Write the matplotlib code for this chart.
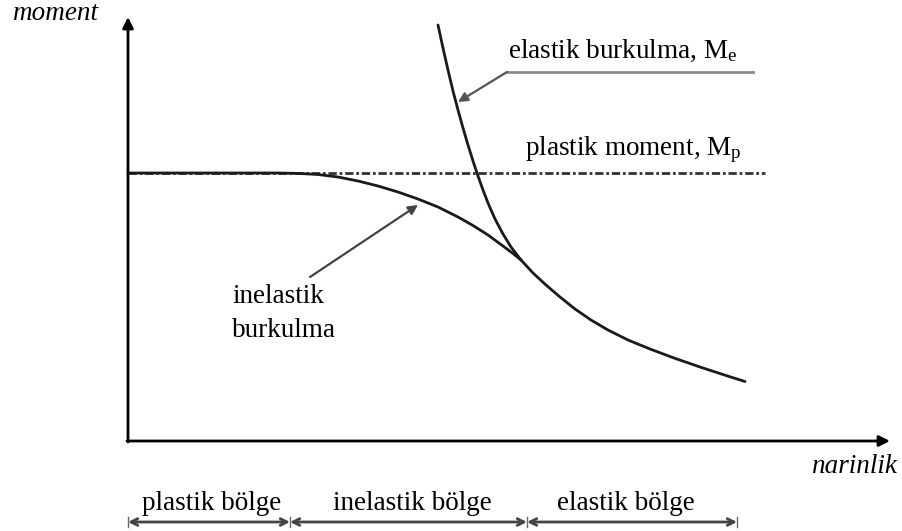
import matplotlib
matplotlib.use("Agg")
import matplotlib.pyplot as plt

plt.rcParams['font.family'] = ['Liberation Serif', 'DejaVu Serif']
plt.rcParams['mathtext.fontset'] = 'custom'
plt.rcParams['mathtext.rm'] = 'Liberation Serif'
plt.rcParams['mathtext.it'] = 'Liberation Serif:italic'
plt.rcParams['lines.scale_dashes'] = False

# ---- data (schematic units) ----
plastic_moment = 268
plastic_line_end = 637

elastic_slenderness = [310, 315, 320, 325, 330, 335, 340, 345, 350, 355, 360, 367, 375, 383,
                       393, 405, 418, 432, 447, 463, 480, 500, 522, 546, 572, 598, 617]
elastic_moment = [416, 393, 371, 350, 331, 313, 296, 280, 265, 251, 238, 222, 207, 194,
                  181, 168, 156, 144, 132, 121, 111, 101, 92, 83, 74, 65.5, 59.5]

inelastic_slenderness = [0, 150, 170, 190, 210, 230, 250, 270, 290, 310, 330, 345, 360, 375, 385, 393]
inelastic_moment = [268, 268, 267.6, 266.5, 264, 260, 255, 249, 242, 234, 224, 215.5, 206, 195, 187.5, 181]

region_bounds = [0, 162, 399, 609]
region_labels = ["plastik bölge", "inelastik bölge", "elastik bölge"]
region_label_x = [14, 205, 429]

FS = 19.5

fig = plt.figure(figsize=(9.02, 5.31), dpi=100)
ax = fig.add_axes([0, 0, 1, 1])
ax.set_xlim(-128, 774)
ax.set_ylim(-90, 441)
ax.axis('off')

# axes arrows
ax.annotate('', xy=(0, 424), xytext=(0, -1),
            arrowprops=dict(arrowstyle='-|>', color='black', lw=2.0,
                            mutation_scale=16, shrinkA=0, shrinkB=0))
ax.annotate('', xy=(762, 0), xytext=(-1, 0),
            arrowprops=dict(arrowstyle='-|>', color='black', lw=2.0,
                            mutation_scale=16, shrinkA=0, shrinkB=0))

# plastic moment line
ax.plot([0, plastic_line_end], [plastic_moment, plastic_moment], color='#333333',
        lw=2.0, dashes=(6, 2, 2, 2))

# curves
ax.plot(elastic_slenderness, elastic_moment, color='#1a1a1a', lw=2.0,
        solid_capstyle='round', solid_joinstyle='round')
ax.plot(inelastic_slenderness, inelastic_moment, color='#1a1a1a', lw=2.0,
        solid_capstyle='round', solid_joinstyle='round')

# labels
ax.text(-116, 421, 'moment', fontsize=FS, style='italic', ha='left', va='baseline')
ax.text(769, -32, 'narinlik', fontsize=FS, style='italic', ha='right', va='baseline')
ax.text(380, 383, r'elastik burkulma, M$_\mathregular{e}$', fontsize=FS, ha='left', va='baseline')
ax.text(397, 286, r'plastik moment, M$_\mathregular{p}$', fontsize=FS, ha='left', va='baseline')
ax.text(104, 138, 'inelastik', fontsize=FS, ha='left', va='baseline')
ax.text(104, 104, 'burkulma', fontsize=FS, ha='left', va='baseline')

# elastic annotation leader
ax.plot([379, 625], [369, 369], color='#8a8a8a', lw=2.0)
ax.annotate('', xy=(330, 339), xytext=(379, 369),
            arrowprops=dict(arrowstyle='-|>', color='#555555', lw=1.6,
                            mutation_scale=14, shrinkA=0, shrinkB=0))
# inelastic annotation
ax.annotate('', xy=(290, 236), xytext=(182, 164),
            arrowprops=dict(arrowstyle='-|>', color='#444444', lw=1.6,
                            mutation_scale=14, shrinkA=0, shrinkB=0))

# regions along the bottom
y_reg = -81
for i in range(len(region_labels)):
    ax.annotate('', xy=(region_bounds[i + 1], y_reg), xytext=(region_bounds[i], y_reg),
                arrowprops=dict(arrowstyle='<->', color='#444444', lw=2.0,
                                mutation_scale=12, shrinkA=0, shrinkB=0))
    ax.text(region_label_x[i], -69, region_labels[i], fontsize=FS, ha='left', va='baseline')
for b in region_bounds:
    ax.plot([b, b], [y_reg - 5, y_reg + 5], color='#666666', lw=1.0)

fig.savefig('out.png', dpi=100)
